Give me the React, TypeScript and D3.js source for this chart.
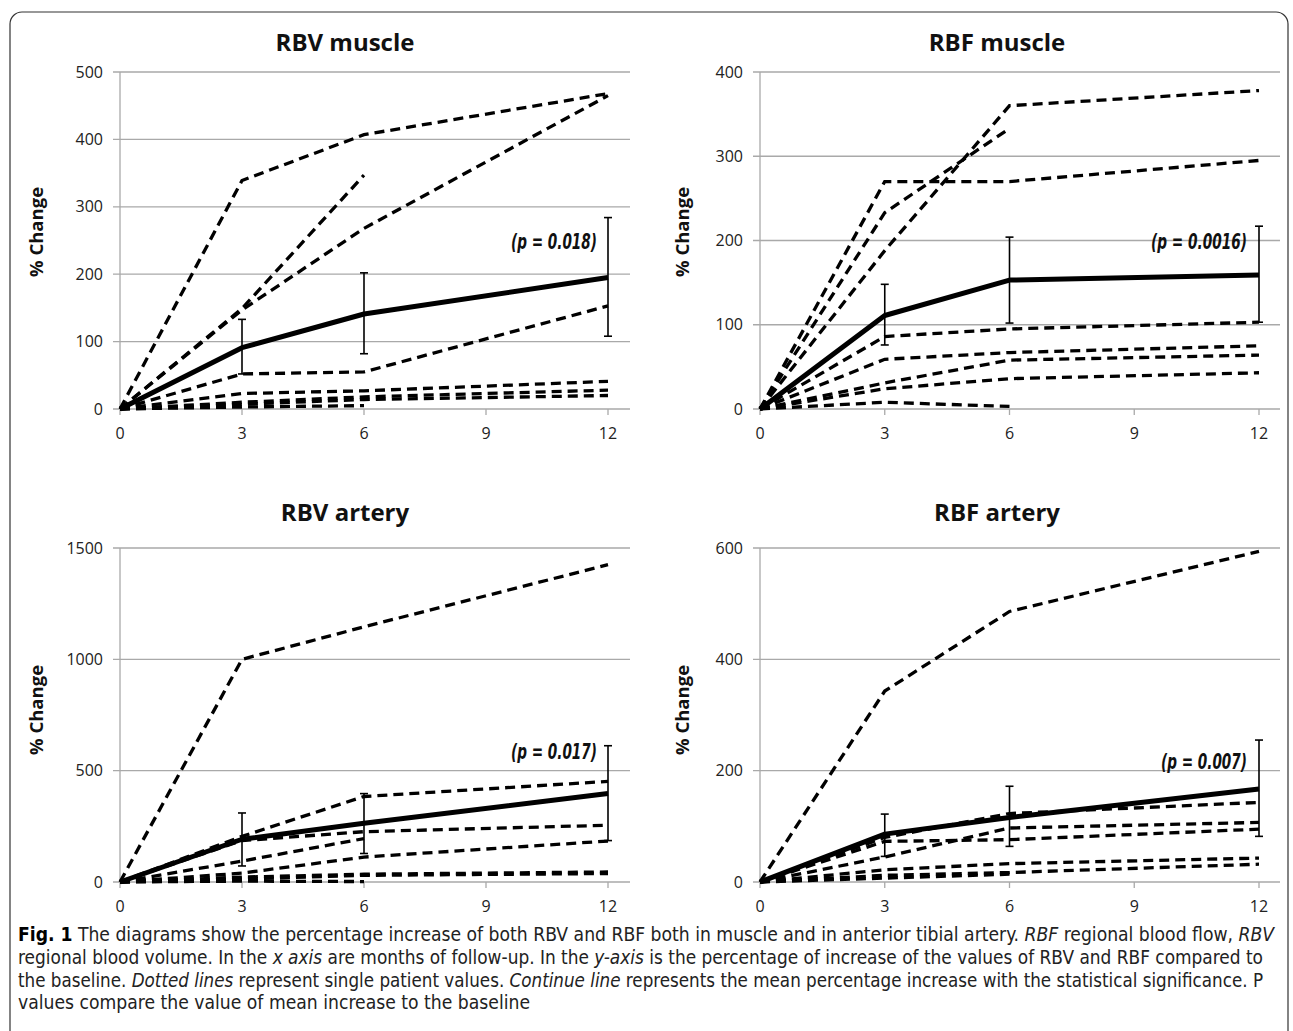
import React from "react";
import * as d3 from "d3";

// months of follow-up
const months = [0, 3, 6, 12];
const xTickValues = [0, 3, 6, 9, 12];
const errMonths = [3, 6, 12];

// RBV muscle
const rbvMusclePatients = [
  [0, 339, 407, 468],
  [0, 149, 347],
  [0, 147, 268, 465],
  [0, 52, 55, 153],
  [0, 23, 27, 41],
  [0, 10, 18, 28],
  [0, 7, 14, 20],
  [0, 3, 5],
];
const rbvMuscleMean = [0, 91, 141, 195];
const rbvMuscleHigh = [133, 202, 284];
const rbvMuscleLow = [52, 82, 108];

// RBF muscle
const rbfMusclePatients = [
  [0, 270, 270, 295],
  [0, 233, 333],
  [0, 188, 360, 378],
  [0, 86, 95, 103],
  [0, 59, 67, 75],
  [0, 31, 58, 64],
  [0, 24, 36, 43],
  [0, 8, 3],
];
const rbfMuscleMean = [0, 111, 153, 159];
const rbfMuscleHigh = [148, 204, 217];
const rbfMuscleLow = [76, 102, 103];

// RBV artery
const rbvArteryPatients = [
  [0, 1000, 1146, 1425],
  [0, 205, 384, 452],
  [0, 186, 226, 255],
  [0, 94, 195],
  [0, 40, 112, 184],
  [0, 22, 35, 45],
  [0, 13, 30, 38],
  [0, 4, 2],
];
const rbvArteryMean = [0, 192, 264, 397];
const rbvArteryHigh = [310, 397, 612];
const rbvArteryLow = [72, 128, 186];

// RBF artery
const rbfArteryPatients = [
  [0, 343, 486, 594],
  [0, 80, 123, 143],
  [0, 73, 76, 95],
  [0, 45, 97, 107],
  [0, 22, 33, 43],
  [0, 12, 17, 32],
  [0, 7, 14],
];
const rbfArteryMean = [0, 86, 116, 167];
const rbfArteryHigh = [122, 172, 255];
const rbfArteryLow = [46, 64, 82];

const tickFont = "'Open Sans', 'Noto Sans', sans-serif";
const narrowFont = "'Liberation Sans Narrow', 'DejaVu Sans Condensed', 'Liberation Sans', sans-serif";

type PanelProps = {
  title: string;
  patients: number[][];
  mean: number[];
  high: number[];
  low: number[];
  yMax: number;
  yStep: number;
  left: number;
  right: number;
  gridRight: number;
  top: number;
  bottom: number;
  titleX: number;
  titleY: number;
  labelX: number;
  labelY: number;
  pText: string;
  pX: number;
  pY: number;
  pLen: number;
};

function Panel(p: PanelProps) {
  const x = d3.scaleLinear().domain([0, 12]).range([p.left, p.right]);
  const y = d3.scaleLinear().domain([0, p.yMax]).range([p.bottom, p.top]);
  const yTicks = d3.range(0, p.yMax + 1, p.yStep);
  const line = d3
    .line<number>()
    .x((_, i) => x(months[i]))
    .y((d) => y(d));
  const grid = "#a9a9a9";

  return (
    <g>
      <text
        x={p.titleX}
        y={p.titleY}
        textAnchor="middle"
        fontFamily={tickFont}
        fontWeight="bold"
        fontSize={24}
        fill="#111"
      >
        {p.title}
      </text>
      <text
        transform={`translate(${p.labelX},${p.labelY}) rotate(-90)`}
        textAnchor="middle"
        fontFamily={tickFont}
        fontWeight="bold"
        fontSize={18.5}
        fill="#111"
      >
        % Change
      </text>
      {yTicks.map((t) => (
        <g key={t}>
          <line x1={p.left - 7} x2={p.gridRight} y1={y(t)} y2={y(t)} stroke={grid} strokeWidth={1.3} />
          <text
            x={p.left - 17}
            y={y(t)}
            dy="0.35em"
            textAnchor="end"
            fontFamily={tickFont}
            fontSize={16}
            fill="#222"
          >
            {t}
          </text>
        </g>
      ))}
      <line x1={p.left} x2={p.left} y1={p.top} y2={p.bottom} stroke={grid} strokeWidth={1.3} />
      {xTickValues.map((t) => (
        <g key={t}>
          <line x1={x(t)} x2={x(t)} y1={p.bottom} y2={p.bottom + 6} stroke={grid} strokeWidth={1.3} />
          <text
            x={x(t)}
            y={p.bottom + 30}
            textAnchor="middle"
            fontFamily={tickFont}
            fontSize={16}
            fill="#222"
          >
            {t}
          </text>
        </g>
      ))}
      {p.patients.map((s, i) => (
        <path
          key={i}
          d={line(s) || ""}
          fill="none"
          stroke="#000"
          strokeWidth={3.3}
          strokeDasharray="10,6"
        />
      ))}
      <path d={line(p.mean) || ""} fill="none" stroke="#000" strokeWidth={5} strokeLinejoin="round" />
      {errMonths.map((m, i) => (
        <g key={m} stroke="#000" strokeWidth={1.6}>
          <line x1={x(m)} x2={x(m)} y1={y(p.high[i])} y2={y(p.low[i])} />
          <line x1={x(m) - 4} x2={x(m) + 4} y1={y(p.high[i])} y2={y(p.high[i])} />
          <line x1={x(m) - 4} x2={x(m) + 4} y1={y(p.low[i])} y2={y(p.low[i])} />
        </g>
      ))}
      <text
        x={p.pX}
        y={p.pY}
        textAnchor="end"
        fontFamily={narrowFont}
        fontWeight="bold"
        fontStyle="italic"
        fontSize={21}
        textLength={p.pLen}
        lengthAdjust="spacingAndGlyphs"
        fill="#111"
      >
        {p.pText}
      </text>
    </g>
  );
}

export default function App() {
  const capFont = narrowFont;
  return (
    <div style={{ position: "absolute", left: 0, top: 0 }}>
      <svg width={1293} height={1031} style={{ display: "block", background: "#fff" }}>
        <rect x={10} y={12} width={1278} height={1060} rx={12} fill="none" stroke="#333" strokeWidth={1.2} />
        <Panel
          title="RBV muscle"
          patients={rbvMusclePatients}
          mean={rbvMuscleMean}
          high={rbvMuscleHigh}
          low={rbvMuscleLow}
          yMax={500}
          yStep={100}
          left={120}
          right={608}
          gridRight={630}
          top={72}
          bottom={409}
          titleX={345}
          titleY={51}
          labelX={43}
          labelY={232}
          pText="(p = 0.018)"
          pX={597}
          pY={249}
          pLen={86}
        />
        <Panel
          title="RBF muscle"
          patients={rbfMusclePatients}
          mean={rbfMuscleMean}
          high={rbfMuscleHigh}
          low={rbfMuscleLow}
          yMax={400}
          yStep={100}
          left={760}
          right={1259}
          gridRight={1280}
          top={72}
          bottom={409}
          titleX={997}
          titleY={51}
          labelX={689}
          labelY={232}
          pText="(p = 0.0016)"
          pX={1247}
          pY={249}
          pLen={96}
        />
        <Panel
          title="RBV artery"
          patients={rbvArteryPatients}
          mean={rbvArteryMean}
          high={rbvArteryHigh}
          low={rbvArteryLow}
          yMax={1500}
          yStep={500}
          left={120}
          right={608}
          gridRight={630}
          top={548}
          bottom={882}
          titleX={345}
          titleY={521}
          labelX={43}
          labelY={710}
          pText="(p = 0.017)"
          pX={597}
          pY={759}
          pLen={86}
        />
        <Panel
          title="RBF artery"
          patients={rbfArteryPatients}
          mean={rbfArteryMean}
          high={rbfArteryHigh}
          low={rbfArteryLow}
          yMax={600}
          yStep={200}
          left={760}
          right={1259}
          gridRight={1280}
          top={548}
          bottom={882}
          titleX={997}
          titleY={521}
          labelX={689}
          labelY={710}
          pText="(p = 0.007)"
          pX={1247}
          pY={769}
          pLen={86}
        />
        <g fontFamily={capFont} fontSize={19} fill="#222">
          <text x={18} y={941} textLength={1256} lengthAdjust="spacingAndGlyphs">
            <tspan fontWeight="bold" fill="#000">Fig. 1</tspan>
            <tspan>{"  The diagrams show the percentage increase of both RBV and RBF both in muscle and in anterior tibial artery. "}</tspan>
            <tspan fontStyle="italic">RBF</tspan>
            <tspan>{" regional blood flow, "}</tspan>
            <tspan fontStyle="italic">RBV</tspan>
          </text>
          <text x={18} y={964} textLength={1245} lengthAdjust="spacingAndGlyphs">
            <tspan>{"regional blood volume. In the "}</tspan>
            <tspan fontStyle="italic">x axis</tspan>
            <tspan>{" are months of follow-up. In the "}</tspan>
            <tspan fontStyle="italic">y-axis</tspan>
            <tspan>{" is the percentage of increase of the values of RBV and RBF compared to"}</tspan>
          </text>
          <text x={18} y={987} textLength={1245} lengthAdjust="spacingAndGlyphs">
            <tspan>{"the baseline. "}</tspan>
            <tspan fontStyle="italic">Dotted lines</tspan>
            <tspan>{" represent single patient values. "}</tspan>
            <tspan fontStyle="italic">Continue line</tspan>
            <tspan>{" represents the mean percentage increase with the statistical significance. P"}</tspan>
          </text>
          <text x={18} y={1009} textLength={512} lengthAdjust="spacingAndGlyphs">
            values compare the value of mean increase to the baseline
          </text>
        </g>
      </svg>
    </div>
  );
}
